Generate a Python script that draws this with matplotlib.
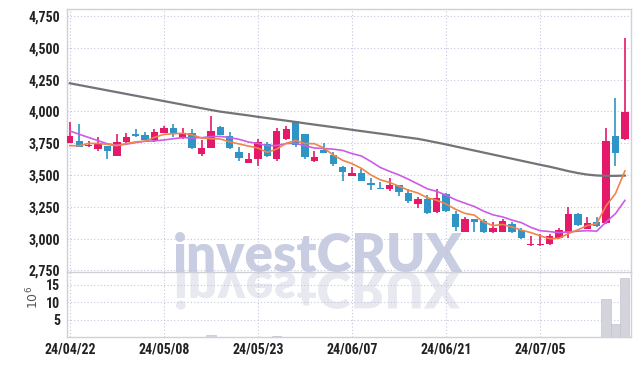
import numpy as np
import matplotlib
matplotlib.use("Agg")
import matplotlib.pyplot as plt
from matplotlib.textpath import TextPath
from matplotlib.patches import PathPatch
from matplotlib.font_manager import FontProperties, fontManager
from matplotlib.transforms import Affine2D

# Daily OHLC (KRW), 60 trading days
opens = [3749, 3767, 3726, 3702, 3730, 3652, 3759, 3825, 3814, 3775,
         3833, 3867, 3788, 3828, 3663, 3715, 3880, 3807, 3681, 3597,
         3623, 3741, 3623, 3783, 3925, 3822, 3612, 3697, 3657, 3565,
         3494, 3518, 3439, 3400, 3390, 3421, 3361, 3270, 3311, 3211,
         3348, 3191, 3054, 3152, 3138, 3049, 3054, 3112, 3067, 2947,
         2947, 2955, 3002, 3042, 3193, 3075, 3128, 3120, 3807, 3781]
highs = [3919, 3899, 3765, 3801, 3730, 3820, 3828, 3862, 3836, 3859,
         3885, 3899, 3867, 3859, 3775, 3966, 3882, 3836, 3718, 3675,
         3783, 3762, 3867, 3885, 3925, 3825, 3691, 3749, 3683, 3570,
         3560, 3545, 3474, 3443, 3474, 3425, 3387, 3325, 3343, 3390,
         3356, 3219, 3172, 3154, 3150, 3128, 3154, 3133, 3080, 3020,
         3033, 3036, 3081, 3251, 3198, 3167, 3167, 3867, 4103, 4575]
lows = [3748, 3722, 3718, 3691, 3623, 3650, 3749, 3801, 3772, 3762,
        3828, 3801, 3781, 3707, 3652, 3712, 3812, 3707, 3612, 3595,
        3571, 3639, 3612, 3775, 3722, 3623, 3605, 3670, 3571, 3453,
        3492, 3453, 3382, 3390, 3377, 3337, 3282, 3243, 3191, 3204,
        3212, 3062, 3052, 3054, 3047, 3047, 3049, 3042, 2997, 2945,
        2945, 2952, 3000, 3002, 3100, 3072, 3089, 3117, 3571, 3778]
closes = [3807, 3722, 3738, 3749, 3686, 3757, 3801, 3809, 3775, 3836,
          3872, 3828, 3828, 3715, 3710, 3846, 3814, 3715, 3636, 3626,
          3762, 3649, 3846, 3862, 3736, 3644, 3644, 3675, 3584, 3526,
          3518, 3455, 3419, 3392, 3421, 3369, 3298, 3311, 3204, 3321,
          3219, 3094, 3152, 3133, 3049, 3081, 3138, 3054, 3007, 2957,
          2955, 3023, 3067, 3193, 3107, 3120, 3099, 3767, 3675, 3998]

# moving averages
ma_short = [3730, 3730, 3748, 3748, 3740, 3730, 3746, 3760, 3766, 3796,
            3819, 3824, 3828, 3816, 3791, 3785, 3783, 3760, 3744, 3727,
            3711, 3678, 3704, 3749, 3771, 3747, 3746, 3712, 3657, 3615,
            3589, 3552, 3500, 3462, 3441, 3411, 3380, 3358, 3321, 3301,
            3271, 3230, 3198, 3184, 3129, 3102, 3111, 3091, 3066, 3047,
            3022, 2999, 3002, 3039, 3069, 3102, 3117, 3257, 3354, 3532]
ma_mid = [3846, 3820, 3795, 3770, 3745, 3735, 3742, 3755, 3765, 3768,
          3775, 3785, 3794, 3791, 3793, 3802, 3803, 3794, 3780, 3759,
          3748, 3730, 3732, 3747, 3749, 3729, 3712, 3708, 3703, 3693,
          3668, 3649, 3606, 3559, 3528, 3500, 3466, 3429, 3391, 3371,
          3341, 3305, 3278, 3252, 3215, 3186, 3170, 3145, 3125, 3088,
          3062, 3055, 3046, 3052, 3058, 3062, 3058, 3130, 3196, 3300]
ma_long = [4221, 4207, 4193, 4179, 4165, 4151, 4137, 4123, 4109, 4095,
           4081, 4067, 4053, 4039, 4025, 4011, 3998, 3988, 3978, 3968,
           3957, 3947, 3937, 3927, 3917, 3906, 3896, 3886, 3876, 3866,
           3855, 3845, 3835, 3825, 3815, 3804, 3794, 3784, 3770, 3755,
           3740, 3724, 3708, 3692, 3676, 3660, 3644, 3628, 3612, 3596,
           3580, 3565, 3548, 3530, 3515, 3503, 3496, 3493, 3493, 3495]

# volume in millions of shares
volumes = [0.02, 0.03, 0.02, 0.02, 0.02, 0.03, 0.02, 0.02, 0.02, 0.03,
           0.03, 0.02, 0.02, 0.03, 0.02, 0.45, 0.04, 0.03, 0.02, 0.02,
           0.04, 0.03, 0.4, 0.03, 0.03, 0.02, 0.02, 0.02, 0.02, 0.02,
           0.02, 0.02, 0.02, 0.01, 0.01, 0.02, 0.02, 0.02, 0.02, 0.02,
           0.02, 0.02, 0.02, 0.01, 0.02, 0.01, 0.02, 0.01, 0.02, 0.02,
           0.02, 0.02, 0.02, 0.04, 0.02, 0.02, 0.02, 10.8, 3.6, 16.8]

tick_pos = [0, 10, 20, 30, 40, 50]
tick_labels = ["24/04/22", "24/05/08", "24/05/23", "24/06/07", "24/06/21", "24/07/05"]
price_ticks = [2750, 3000, 3250, 3500, 3750, 4000, 4250, 4500, 4750]
vol_ticks = [5, 10, 15]

W, H = 639, 366
RED = "#e5196a"
BLUE = "#2f94c6"
GRID = "#c3c6de"
SPINE = "#cfd0d8"


def first_font(candidates, fallback):
    names = {f.name for f in fontManager.ttflist}
    for cand in candidates:
        if cand in names:
            return cand
    return fallback


# narrow face for the tick labels, heavy face for the watermark
tick_family = first_font(["Roboto Condensed", "Barlow Semi Condensed", "Archivo Narrow",
                          "PT Sans Narrow", "Liberation Sans Narrow", "Saira Semi Condensed"],
                         "Liberation Sans")
tick_fp = FontProperties(family=tick_family, weight="bold", size=10)
mark_family = first_font(["Lato"], "Liberation Sans")
mark_fp = FontProperties(family=mark_family, weight="heavy", size=38)

fig = plt.figure(figsize=(W / 100, H / 100), dpi=100)
fig.patch.set_facecolor("white")
left, right = 66.5, 631
ax = fig.add_axes([left / W, (H - 272) / H, (right - left) / W, (272 - 9) / H])
axv = fig.add_axes([left / W, (H - 337) / H, (right - left) / W, (337 - 272) / H], sharex=ax)
for a in (ax, axv):
    a.set_facecolor("none")

# watermark (real text) and its mirrored reflection
fig.text(318 / W, (H - 272) / H, "investCRUX", fontproperties=mark_fp,
         color="#c8cde2", ha="center", va="baseline", zorder=-2)
tp = TextPath((0, 0), "investCRUX", size=50, prop=mark_fp)
bb = tp.get_extents()
sx = (460 - 176) / bb.width
sy = 38 / bb.height
tr_refl = Affine2D().translate(-bb.x0, 0).scale(sx, -sy).translate(176, H - 272)
fig.add_artist(PathPatch(tp, transform=tr_refl, facecolor="#e7e8f0", edgecolor="none", zorder=-3))

x = np.arange(len(closes))
o = np.array(opens)
c = np.array(closes)
up = c >= o
colors = np.where(up, RED, BLUE)
bottoms = np.minimum(o, c)
heights = np.maximum(np.abs(c - o), 8)

ax.vlines(x, lows, highs, colors=colors, lw=1.2, zorder=3)
ax.bar(x, heights, bottom=bottoms, width=0.78, color=colors, linewidth=0, zorder=3)

ax.plot(x, ma_long, color="#737378", lw=1.6, zorder=4)
ax.plot(x, ma_mid, color="#cc5ce6", lw=1.2, zorder=4)
ax.plot(x, ma_short, color="#ef8548", lw=1.2, zorder=4)

ax.set_xlim(-0.35, 59.65)
ax.set_ylim(2737, 4805)
ax.set_yticks(price_ticks)
ax.set_yticklabels([f"{v:,}" for v in price_ticks], fontproperties=tick_fp)
ax.set_xticks(tick_pos)
ax.tick_params(axis="x", labelbottom=False, length=0)
ax.tick_params(axis="y", length=0, pad=4.5, colors="#222222")
ax.grid(True, linestyle=(0, (1, 2)), color=GRID, lw=0.8, zorder=0)
for s in ax.spines.values():
    s.set_color(SPINE)
    s.set_linewidth(1)

# volume panel
axv.bar(x, volumes, width=0.98, color="#d4d4dc", edgecolor="#c4c4ce", linewidth=0.5, zorder=3)
axv.set_ylim(0, 18.6)
axv.set_yticks(vol_ticks)
axv.set_yticklabels([str(v) for v in vol_ticks], fontproperties=tick_fp)
axv.set_xticks(tick_pos)
axv.set_xticklabels(tick_labels, fontproperties=tick_fp)
axv.tick_params(axis="both", length=0, colors="#222222")
axv.tick_params(axis="y", pad=4.5)
axv.tick_params(axis="x", pad=4)
axv.grid(True, linestyle=(0, (1, 2)), color=GRID, lw=0.8, zorder=0)
for s in axv.spines.values():
    s.set_color(SPINE)
    s.set_linewidth(1)
axv.spines["top"].set_visible(False)

fig.text(33 / W, (H - 297) / H, r"$10^6$", rotation=90, ha="center", va="center",
         color="#555555", fontsize=9)

fig.savefig("out.png", dpi=100)
